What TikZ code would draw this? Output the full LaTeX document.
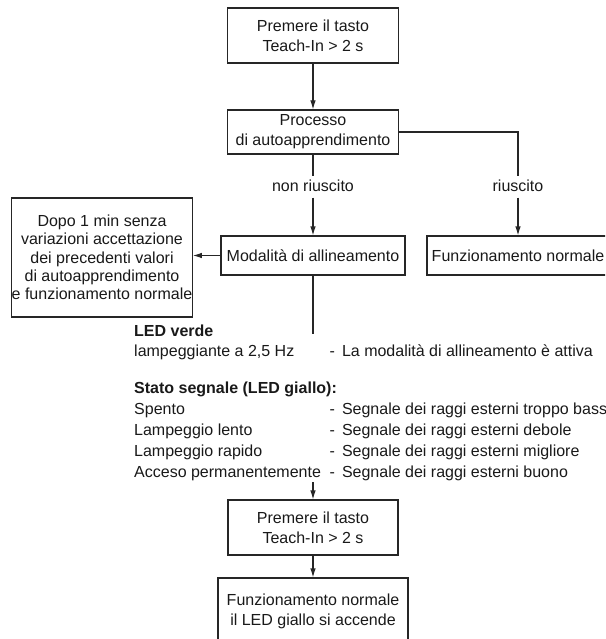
\documentclass[tikz,border=0pt]{standalone}
\usepackage{fontspec}
\setmainfont{Liberation Sans}
\usetikzlibrary{arrows.meta}
\newcommand\myfs{\fontsize{16}{20}\selectfont}
\begin{document}
\begin{tikzpicture}[x=1pt,y=-1pt,
  font=\myfs,
  every node/.style={text=black!90},
  box/.style={draw=black!85, line width=1.1pt, inner sep=0pt, align=center},
  lbl/.style={inner sep=0pt, minimum height=21pt, text height=11.5pt, text depth=3.5pt},
  txt/.style={inner sep=0pt, anchor=west, text height=11.5pt, text depth=3.5pt},
  boldtxt/.style={txt, font=\bfseries\myfs},
  conn/.style={draw=black!85, line width=1.1pt},
  arr/.style={conn, -{Latex[length=9pt,width=5.5pt]}}
]
\useasboundingbox (0,0) rectangle (605,639);
\clip (0,0) rectangle (605,639);

% boxes
\node[box, minimum width=171pt, minimum height=55pt] (b1) at (313,35.5) {Premere il tasto\\Teach-In > 2 s};
\node[box, minimum width=171pt, minimum height=44pt] (b2) at (313,132) {Processo\\di autoapprendimento};
\node[lbl] (nr) at (313,187) {non riuscito};
\node[lbl] (ri) at (518,187) {riuscito};
\node[box, minimum width=184pt, minimum height=39pt] (mod) at (313,255.5) {Modalità di allineamento};
\node[box, minimum width=182pt, minimum height=39pt] (fn) at (518,255.5) {Funzionamento normale};
\node[box, minimum width=180pt, minimum height=119pt, font=\fontsize{16}{18.3}\selectfont] (dp) at (102,257.5)
  {Dopo 1 min senza\\variazioni accettazione\\dei precedenti valori\\di autoapprendimento\\e funzionamento normale};

% text block
\node[boldtxt] (lv) at (134,332) {LED verde};
\node[txt] (lamp) at (134,352) {lampeggiante a 2,5 Hz};
\node[txt] (lampd) at (329.5,352) {-\hspace{7pt}La modalità di allineamento è attiva};
\node[boldtxt] (ss) at (134,389) {Stato segnale (LED giallo):};
\node[txt] (r1) at (134,410) {Spento};
\node[txt] (r1d) at (329.5,410) {-\hspace{7pt}Segnale dei raggi esterni troppo basso};
\node[txt] (r2) at (134,431) {Lampeggio lento};
\node[txt] (r2d) at (329.5,431) {-\hspace{7pt}Segnale dei raggi esterni debole};
\node[txt] (r3) at (134,452) {Lampeggio rapido};
\node[txt] (r3d) at (329.5,452) {-\hspace{7pt}Segnale dei raggi esterni migliore};
\node[txt] (r4) at (134,473) {Acceso permanentemente};
\node[txt] (r4d) at (329.5,473) {-\hspace{7pt}Segnale dei raggi esterni buono};

\node[box, minimum width=170pt, minimum height=55pt] (b3) at (313,527.5) {Premere il tasto\\Teach-In > 2 s};
\node[box, minimum width=190pt, minimum height=66pt] (b4) at (313,611) {Funzionamento normale\\il LED giallo si accende};

\coordinate (e1) at (313,334);
\coordinate (s3) at (313,482);

% connectors
\draw[arr] (b1.south) -- (b2.north);
\draw[conn] (b2.south) -- (nr.north);
\draw[arr] (nr.south) -- (mod.north);
\draw[conn] (b2.east) -| (ri.north);
\draw[arr] (ri.south) -- (fn.north);
\draw[arr] (mod.west) -- (mod.west -| dp.east);
\draw[conn] (mod.south) -- (e1);
\draw[arr] (s3) -- (b3.north);
\draw[arr] (b3.south) -- (b4.north);
\end{tikzpicture}
\end{document}
